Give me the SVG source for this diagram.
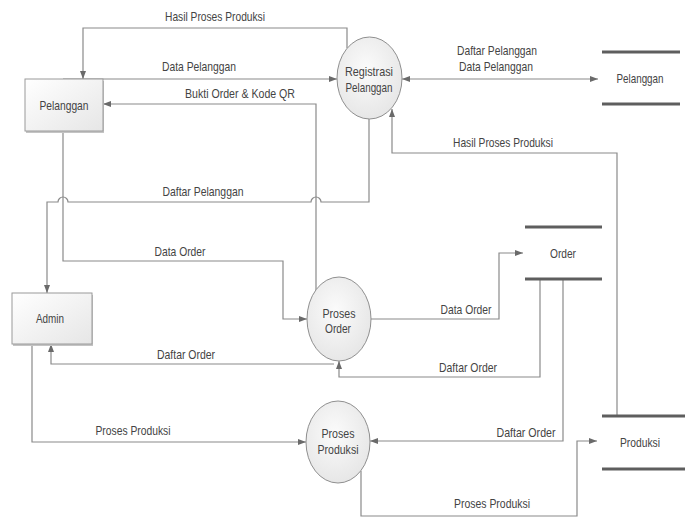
<svg xmlns="http://www.w3.org/2000/svg" width="685" height="518" viewBox="0 0 685 518">
<style>
  text { font-family: "Liberation Sans", Arial, sans-serif; font-size: 13px; fill: #444444; text-anchor: middle; }
  .flow { fill: none; stroke: #8a8a8a; stroke-width: 1.2; }
  .arr { marker-end: url(#ah); }
  .store { stroke: #5e5e5e; stroke-width: 3; }
  .ent { fill: url(#gRect); stroke: #9a9a9a; stroke-width: 1; }
  .shadow { fill: #c4c4c4; }
  .proc { fill: url(#gProc); stroke: #8f8f8f; stroke-width: 1; }
</style>
<defs>
  <marker id="ah" viewBox="0 0 8 6" refX="8" refY="3" markerWidth="8" markerHeight="6" markerUnits="userSpaceOnUse" orient="auto">
    <path d="M0,0 L8,3 L0,6 z" fill="#6a6a6a"/>
  </marker>
  <marker id="ahs" viewBox="0 0 8 6" refX="0" refY="3" markerWidth="8" markerHeight="6" markerUnits="userSpaceOnUse" orient="auto">
    <path d="M8,0 L0,3 L8,6 z" fill="#6a6a6a"/>
  </marker>
  <linearGradient id="gRect" x1="0" y1="0" x2="1" y2="1">
    <stop offset="0" stop-color="#ffffff"/>
    <stop offset="1" stop-color="#e6e6e6"/>
  </linearGradient>
  <radialGradient id="gProc" cx="0.45" cy="0.4" r="0.65">
    <stop offset="0" stop-color="#fbfbfb"/>
    <stop offset="1" stop-color="#e5e5e5"/>
  </radialGradient>
</defs>
<rect width="685" height="518" fill="#ffffff"/>

<g id="connectors">
  <path class="flow arr" d="M347,48 V28 H83 V79"/>
  <path class="flow arr" d="M63,79 H337"/>
  <path class="flow arr" d="M316,291 V104 H103"/>
  <path class="flow arr" d="M369,119 V202 H321 A5,5 0 0 0 311,202 H68 A5,5 0 0 0 58,202 H47 V293"/>
  <path class="flow arr" d="M63,131 V261 H283 V319 H307"/>
  <path class="flow arr" d="M334,364 H51 V344"/>
  <path class="flow arr" d="M371,319 H499 V253 H523"/>
  <path class="flow arr" d="M540,279 V377 H339 V361"/>
  <path class="flow arr" d="M563,279 V441 H370"/>
  <path class="flow arr" d="M32,344 V442 H306"/>
  <path class="flow arr" d="M361,471 V516 H577 V441 H597"/>
  <path class="flow arr" d="M617,416 V153 H392 V109"/>
  <path class="flow" d="M402,79 H598" marker-start="url(#ahs)" marker-end="url(#ah)"/>

  <text x="215" y="21" textLength="100" lengthAdjust="spacingAndGlyphs">Hasil Proses Produksi</text>
  <text x="199" y="71" textLength="74" lengthAdjust="spacingAndGlyphs">Data Pelanggan</text>
  <text x="240" y="98" textLength="110" lengthAdjust="spacingAndGlyphs">Bukti Order &amp; Kode QR</text>
  <text x="203" y="196" textLength="81" lengthAdjust="spacingAndGlyphs">Daftar Pelanggan</text>
  <text x="180" y="256" textLength="51" lengthAdjust="spacingAndGlyphs">Data Order</text>
  <text x="186" y="359" textLength="58" lengthAdjust="spacingAndGlyphs">Daftar Order</text>
  <text x="466" y="314" textLength="51" lengthAdjust="spacingAndGlyphs">Data Order</text>
  <text x="468" y="372" textLength="58" lengthAdjust="spacingAndGlyphs">Daftar Order</text>
  <text x="526" y="437" textLength="59" lengthAdjust="spacingAndGlyphs">Daftar Order</text>
  <text x="133" y="435" textLength="75" lengthAdjust="spacingAndGlyphs">Proses Produksi</text>
  <text x="492" y="508" textLength="76" lengthAdjust="spacingAndGlyphs">Proses Produksi</text>
  <text x="503" y="147" textLength="100" lengthAdjust="spacingAndGlyphs">Hasil Proses Produksi</text>
  <text x="497" y="55" textLength="80" lengthAdjust="spacingAndGlyphs">Daftar Pelanggan</text>
  <text x="496" y="71" textLength="74" lengthAdjust="spacingAndGlyphs">Data Pelanggan</text>
</g>

<g id="pelanggan">
  <rect class="shadow" x="26" y="81" width="78" height="52"/>
  <rect class="ent" x="25" y="79" width="78" height="52"/>
  <text x="64" y="110" textLength="49" lengthAdjust="spacingAndGlyphs">Pelanggan</text>
</g>

<g id="admin">
  <rect class="shadow" x="13" y="295" width="80" height="51"/>
  <rect class="ent" x="12" y="293" width="80" height="51"/>
  <text x="50" y="323" textLength="28" lengthAdjust="spacingAndGlyphs">Admin</text>
</g>

<g id="registrasi-pelanggan">
  <ellipse class="proc" cx="369.5" cy="78" rx="32.5" ry="41"/>
  <text x="369" y="76" textLength="48" lengthAdjust="spacingAndGlyphs">Registrasi</text>
  <text x="369" y="92" textLength="47" lengthAdjust="spacingAndGlyphs">Pelanggan</text>
</g>

<g id="proses-order">
  <ellipse class="proc" cx="339" cy="319" rx="32" ry="42"/>
  <text x="339" y="318" textLength="33" lengthAdjust="spacingAndGlyphs">Proses</text>
  <text x="338" y="333" textLength="26" lengthAdjust="spacingAndGlyphs">Order</text>
</g>

<g id="proses-produksi">
  <ellipse class="proc" cx="338" cy="442" rx="32" ry="41"/>
  <text x="338" y="438" textLength="33" lengthAdjust="spacingAndGlyphs">Proses</text>
  <text x="338" y="454" textLength="41" lengthAdjust="spacingAndGlyphs">Produksi</text>
</g>

<g id="store-pelanggan">
  <line class="store" x1="602" y1="52" x2="680" y2="52"/>
  <line class="store" x1="602" y1="104" x2="680" y2="104"/>
  <text x="640" y="83" textLength="47" lengthAdjust="spacingAndGlyphs">Pelanggan</text>
</g>

<g id="store-order">
  <line class="store" x1="525" y1="227" x2="602" y2="227"/>
  <line class="store" x1="525" y1="279" x2="602" y2="279"/>
  <text x="563" y="258" textLength="26" lengthAdjust="spacingAndGlyphs">Order</text>
</g>

<g id="store-produksi">
  <line class="store" x1="602" y1="416" x2="685" y2="416"/>
  <line class="store" x1="602" y1="469" x2="685" y2="469"/>
  <text x="640" y="447" textLength="40" lengthAdjust="spacingAndGlyphs">Produksi</text>
</g>
</svg>
